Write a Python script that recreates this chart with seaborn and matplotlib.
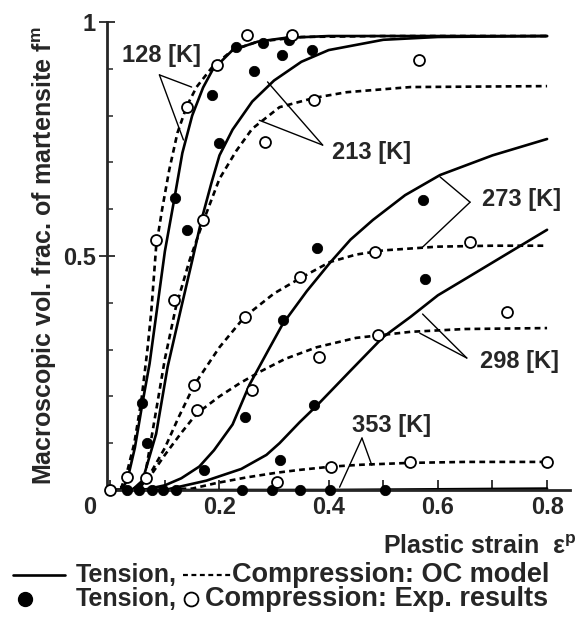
import matplotlib
matplotlib.use("Agg")
import matplotlib.pyplot as plt
from matplotlib.lines import Line2D
from matplotlib.ticker import MultipleLocator, FixedLocator
import pandas as pd
import seaborn as sns

sns.set_style("ticks")
plt.rcParams["font.family"] = ["Liberation Sans", "DejaVu Sans"]
plt.rcParams["font.weight"] = "bold"
plt.rcParams["mathtext.fontset"] = "custom"
plt.rcParams["mathtext.rm"] = "Liberation Sans:bold"
plt.rcParams["mathtext.it"] = "Liberation Sans:italic:bold"

# ---- Olson-Cohen model curves (tension: solid, compression: dashed) ----
t128_x = [0.0, 0.02, 0.031, 0.045, 0.059, 0.072, 0.086, 0.10, 0.117, 0.132, 0.15, 0.17, 0.187, 0.224, 0.27, 0.32, 0.40, 0.50, 0.80]
t128_y = [0.0, 0.0, 0.02, 0.09, 0.186, 0.27, 0.39, 0.51, 0.62, 0.72, 0.80, 0.86, 0.897, 0.94, 0.958, 0.966, 0.970, 0.970, 0.970]
c128_x = [0.0, 0.02, 0.03, 0.044, 0.057, 0.068, 0.075, 0.084, 0.095, 0.108, 0.123, 0.14, 0.158, 0.187, 0.224, 0.27, 0.35, 0.50, 0.80]
c128_y = [0.0, 0.005, 0.035, 0.10, 0.192, 0.30, 0.38, 0.52, 0.60, 0.684, 0.763, 0.82, 0.861, 0.904, 0.94, 0.958, 0.968, 0.970, 0.970]

t213_x = [0.0, 0.04, 0.059, 0.084, 0.105, 0.13, 0.15, 0.167, 0.185, 0.20, 0.224, 0.26, 0.30, 0.35, 0.40, 0.50, 0.60, 0.80]
t213_y = [0.0, 0.0, 0.02, 0.12, 0.263, 0.39, 0.49, 0.577, 0.655, 0.715, 0.77, 0.83, 0.875, 0.915, 0.94, 0.962, 0.968, 0.970]
c213_x = [0.0, 0.04, 0.062, 0.084, 0.10, 0.12, 0.145, 0.169, 0.20, 0.231, 0.26, 0.31, 0.374, 0.433, 0.55, 0.80]
c213_y = [0.0, 0.0, 0.02, 0.17, 0.28, 0.39, 0.49, 0.57, 0.665, 0.725, 0.772, 0.818, 0.838, 0.85, 0.861, 0.863]

t273_x = [0.0, 0.06, 0.10, 0.13, 0.163, 0.19, 0.224, 0.255, 0.29, 0.316, 0.36, 0.402, 0.44, 0.481, 0.54, 0.604, 0.70, 0.80]
t273_y = [0.0, 0.0, 0.01, 0.025, 0.05, 0.085, 0.14, 0.225, 0.30, 0.355, 0.425, 0.485, 0.535, 0.577, 0.63, 0.673, 0.715, 0.75]
c273_x = [0.0, 0.04, 0.066, 0.10, 0.125, 0.154, 0.20, 0.246, 0.30, 0.347, 0.402, 0.45, 0.50, 0.60, 0.70, 0.80]
c273_y = [0.0, 0.0, 0.02, 0.09, 0.155, 0.225, 0.305, 0.37, 0.42, 0.452, 0.487, 0.503, 0.512, 0.52, 0.522, 0.522]

t298_x = [0.0, 0.10, 0.176, 0.24, 0.286, 0.31, 0.347, 0.378, 0.44, 0.50, 0.55, 0.60, 0.653, 0.72, 0.80]
t298_y = [0.0, 0.0, 0.02, 0.045, 0.075, 0.10, 0.145, 0.18, 0.255, 0.327, 0.37, 0.416, 0.453, 0.50, 0.556]
c298_x = [0.0, 0.05, 0.077, 0.10, 0.13, 0.158, 0.20, 0.237, 0.273, 0.32, 0.378, 0.45, 0.55, 0.65, 0.80]
c298_y = [0.0, 0.0, 0.036, 0.075, 0.122, 0.163, 0.20, 0.228, 0.252, 0.28, 0.305, 0.325, 0.338, 0.344, 0.346]

t353_x = [0.0, 0.40, 0.80]
t353_y = [0.0, 0.0, 0.003]
c353_x = [0.0, 0.15, 0.195, 0.25, 0.305, 0.347, 0.405, 0.46, 0.55, 0.65, 0.80]
c353_y = [0.0, 0.003, 0.015, 0.027, 0.037, 0.043, 0.05, 0.054, 0.058, 0.06, 0.06]

# ---- experimental results ----
et128_x = [0.059, 0.119, 0.187, 0.231, 0.279, 0.328]
et128_y = [0.186, 0.624, 0.844, 0.947, 0.955, 0.962]
et213_x = [0.068, 0.141, 0.20, 0.264, 0.314, 0.369]
et213_y = [0.10, 0.556, 0.741, 0.895, 0.93, 0.94]
et273_x = [0.172, 0.246, 0.316, 0.378, 0.572]
et273_y = [0.043, 0.156, 0.363, 0.517, 0.62]
et298_x = [0.31, 0.374, 0.576]
et298_y = [0.064, 0.182, 0.45]
et353_x = [0.03, 0.053, 0.077, 0.096, 0.12, 0.242, 0.297, 0.347, 0.402, 0.503]
et353_y = [0.0, 0.0, 0.0, 0.0, 0.0, 0.0, 0.0, 0.0, 0.0, 0.0]

ec128_x = [0.031, 0.084, 0.141, 0.196, 0.25, 0.332]
ec128_y = [0.028, 0.534, 0.818, 0.908, 0.972, 0.972]
ec213_x = [0.066, 0.117, 0.169, 0.284, 0.374, 0.565]
ec213_y = [0.026, 0.406, 0.577, 0.744, 0.833, 0.919]
ec273_x = [0.154, 0.246, 0.347, 0.484, 0.659]
ec273_y = [0.224, 0.37, 0.455, 0.509, 0.53]
ec298_x = [0.158, 0.259, 0.383, 0.49, 0.727]
ec298_y = [0.171, 0.214, 0.284, 0.331, 0.38]
ec353_x = [0.0, 0.305, 0.405, 0.549, 0.80]
ec353_y = [0.0, 0.017, 0.05, 0.06, 0.06]

temps = ["128", "213", "273", "298", "353"]
x_ticks = [0.2, 0.4, 0.6, 0.8]
x_tick_labels = ["0.2", "0.4", "0.6", "0.8"]
y_ticks = [0.5, 1.0]
y_tick_labels = ["0.5", "1"]

g = globals()


def long_table(prefix_t, prefix_c):
    rows = []
    for T in temps:
        for mode, pre in (("Tension", prefix_t), ("Compression", prefix_c)):
            for xv, yv in zip(g[f"{pre}{T}_x"], g[f"{pre}{T}_y"]):
                rows.append({"strain": xv, "frac": yv, "temp": T,
                             "mode": mode, "curve": f"{mode}{T}"})
    return pd.DataFrame(rows)


model = long_table("t", "c")
exp = long_table("et", "ec")

FS = 17
fig = plt.figure(figsize=(5.88, 6.23), dpi=100)
ax = fig.add_axes([107 / 588, 1 - 490 / 623, (570 - 107) / 588, (490 - 22) / 623])

sns.lineplot(data=model, x="strain", y="frac", units="curve", style="mode",
             estimator=None, sort=False, color="black", lw=1.9,
             dashes={"Tension": "", "Compression": (2.2, 1.6)},
             legend=False, ax=ax)
sns.scatterplot(data=exp[exp["mode"] == "Tension"], x="strain", y="frac",
                color="black", edgecolor="black", s=55, legend=False,
                ax=ax, zorder=4)
sns.scatterplot(data=exp[exp["mode"] == "Compression"], x="strain", y="frac",
                facecolor="white", edgecolor="black", linewidth=1.3, s=62,
                legend=False, ax=ax, zorder=4)

ax.set_xlim(-0.006, 0.842)
ax.set_ylim(0, 1.0)
for side in ("top", "right"):
    ax.spines[side].set_visible(False)
for side in ("left", "bottom"):
    ax.spines[side].set_linewidth(2.0)
ax.set_xlabel("")
ax.set_ylabel("")
for coll in ax.collections:
    coll.set_clip_on(False)

ax.xaxis.set_major_locator(FixedLocator(x_ticks))
ax.set_xticklabels(x_tick_labels)
ax.xaxis.set_minor_locator(MultipleLocator(0.1))
ax.yaxis.set_major_locator(FixedLocator(y_ticks))
ax.set_yticklabels(y_tick_labels)
ax.yaxis.set_minor_locator(MultipleLocator(0.1))
ax.tick_params(axis="x", which="both", direction="in", length=7, width=1.3,
               labelsize=FS, pad=4)
ax.tick_params(axis="y", which="major", direction="inout", length=12,
               width=1.3, labelsize=FS, pad=2)
ax.tick_params(axis="y", which="minor", direction="in", length=4, width=1.1)
ax.text(-0.025, -0.012, "0", ha="right", va="top", fontsize=FS,
        transform=ax.transData)

# temperature labels with leader lines
labels = {
    "128": ((0.094, 0.929), (0.09, 0.887), [(0.149, 0.861), (0.134, 0.748)]),
    "213": ((0.479, 0.722), (0.389, 0.737), [(0.288, 0.872), (0.273, 0.79)]),
    "273": ((0.754, 0.62), (0.659, 0.615), [(0.604, 0.669), (0.572, 0.519)]),
    "298": ((0.75, 0.274), (0.653, 0.282), [(0.572, 0.376), (0.567, 0.335)]),
    "353": ((0.516, 0.137), (0.461, 0.111), [(0.42, 0.006), (0.479, 0.053)]),
}
for T, (txt, apex, ends) in labels.items():
    ax.text(*txt, f"{T} [K]", ha="center", va="center", fontsize=FS)
    for e in ends:
        ax.plot([apex[0], e[0]], [apex[1], e[1]], color="black", lw=1.0,
                clip_on=False)

fig.text(45 / 588, 1 - 256 / 623, r"Macroscopic vol. frac. of martensite f$^{\mathrm{m}}$",
         rotation=90, ha="center", va="center", fontsize=18)
fig.text(577 / 588, 1 - 547 / 623, r"Plastic strain  ε$^{\mathrm{p}}$",
         ha="right", va="center", fontsize=18)

# key below the axes
LS = 18
LS2 = 19.5
y1 = 1 - 575 / 623
y2 = 1 - 599 / 623
fig.add_artist(Line2D([13 / 588, 65 / 588], [y1, y1], color="black", lw=1.9))
fig.text(76 / 588, y1, "Tension,", ha="left", va="center", fontsize=LS)
fig.add_artist(Line2D([183 / 588, 231 / 588], [y1, y1], color="black", lw=1.6,
                      dashes=(2.2, 1.6)))
fig.text(232 / 588, y1, "Compression: OC model", ha="left", va="center", fontsize=LS2)
fig.add_artist(Line2D([25 / 588], [y2], marker="o", color="black", ms=10))
fig.text(76 / 588, y2, "Tension,", ha="left", va="center", fontsize=LS)
fig.add_artist(Line2D([191 / 588], [y2], marker="o", mfc="white", mec="black",
                      mew=1.3, ms=10))
fig.text(205 / 588, y2, "Compression: Exp. results", ha="left", va="center", fontsize=LS2)

fig.savefig("out.png", dpi=100)
